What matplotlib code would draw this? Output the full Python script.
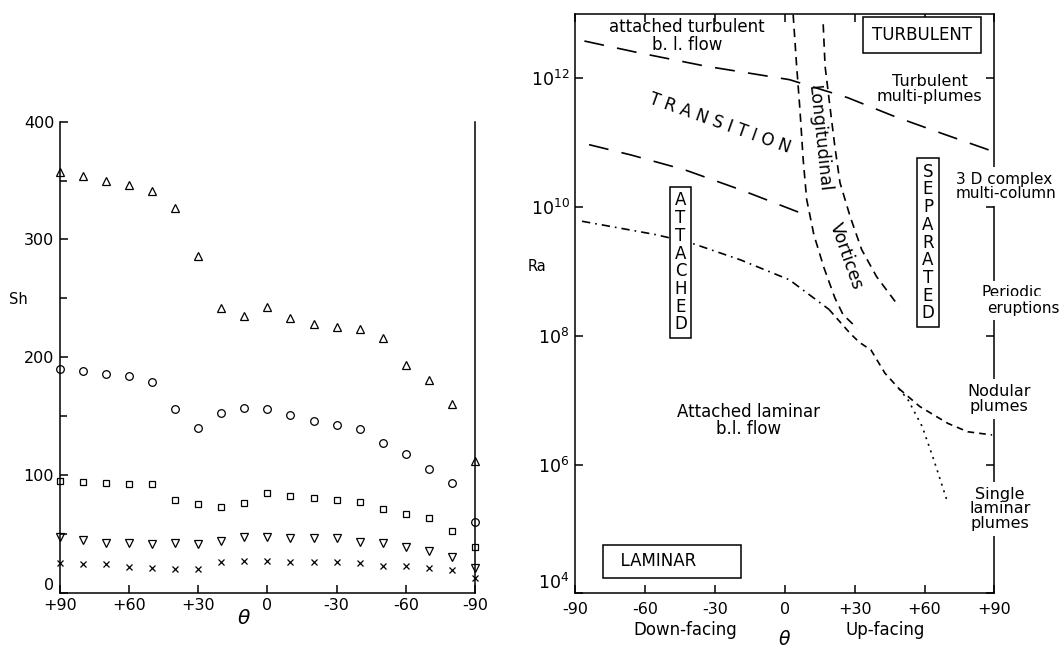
import numpy as np
import matplotlib
matplotlib.use('Agg')
import matplotlib.pyplot as plt
from matplotlib.ticker import NullLocator, MultipleLocator
import matplotlib.transforms as mtransforms

# --- lewy wykres: Sh w funkcji kata nachylenia ---
theta_pts = [90, 80, 70, 60, 50, 40, 30, 20, 10, 0, -10, -20, -30, -40, -50, -60, -70, -80, -90]
sh_tri = [357, 354, 350, 346, 341, 327, 286, 242, 235, 243, 233, 228, 226, 224, 216, 193, 181, 160, 112]
sh_circ = [190, 188, 186, 184, 179, 156, 140, 153, 157, 156, 151, 146, 142, 139, 127, 118, 105, 93, 60]
sh_sq = [95, 94, 93, 92, 92, 79, 75, 73, 76, 85, 82, 80, 79, 77, 71, 67, 63, 52, 39]
sh_dtri = [47, 45, 42, 42, 41, 42, 41, 44, 47, 47, 46, 46, 46, 43, 42, 39, 35, 30, 21]
sh_x = [25, 24, 24, 22, 21, 20, 20, 26, 27, 27, 26, 26, 26, 25, 23, 23, 21, 19, 12]

left_xticks = [90, 60, 30, 0, -30, -60, -90]
left_xlabels = ['+90', '+60', '+30', '0', '-30', '-60', '-90']
left_yticks = [0, 100, 200, 300, 400]

# --- prawy wykres: mapa rezimow (theta, log10 Ra) ---
turb_th = [-86, -63, -34, 2, 27, 47, 67, 89]
turb_lra = [12.58, 12.40, 12.19, 11.98, 11.70, 11.41, 11.15, 10.87]

trans_th = [-84, -66, -43, -19, 11]
trans_lra = [10.97, 10.81, 10.58, 10.27, 9.85]

lam_th = [-87, -55, -40, -19, 2, 19]
lam_lra = [9.78, 9.57, 9.44, 9.18, 8.87, 8.41]
lam2_th = [19, 28, 32, 37, 43, 49]
lam2_lra = [8.41, 8.04, 7.9, 7.78, 7.42, 7.18]

nod_th = [49, 58, 70, 78.5, 89]
nod_lra = [7.18, 6.90, 6.64, 6.51, 6.46]

single_th = [49, 53, 59, 64, 70]
single_lra = [7.18, 7.0, 6.59, 6.07, 5.4]

vort1_th = [3.6, 5.1, 6.5, 7.9, 9.4, 12.5, 16.8, 21.5, 25.0, 31]
vort1_lra = [12.99, 12.19, 11.52, 10.74, 10.12, 9.57, 9.06, 8.59, 8.33, 8.12]
vort2_th = [16.5, 17.3, 19.4, 21.5, 23.7, 28.0, 33.0, 39.4, 48.9]
vort2_lra = [12.84, 12.19, 11.56, 10.94, 10.38, 9.86, 9.34, 8.92, 8.46]

right_xticks = [-90, -60, -30, 0, 30, 60, 90]
right_xlabels = ['-90', '-60', '-30', '0', '+30', '+60', '+90']
right_ydec = [4, 6, 8, 10, 12]

FS = 11.5
FR = 12

fig = plt.figure(figsize=(10.62, 6.48), dpi=100)

# ================= lewy =================
ax1 = fig.add_axes([0.0562, 0.0855, 0.3912, 0.7266])
styl = dict(linestyle='none', mfc='none', mec='black', mew=0.9, clip_on=False)
ax1.plot(theta_pts, sh_tri, marker='^', ms=5.5, **styl)
ax1.plot(theta_pts, sh_circ, marker='o', ms=5.5, **styl)
ax1.plot(theta_pts, sh_sq, marker='s', ms=5, **styl)
ax1.plot(theta_pts, sh_dtri, marker='v', ms=5.5, **styl)
ax1.plot(theta_pts, sh_x, marker='x', ms=4, color='black', linestyle='none', mew=0.9, clip_on=False)

ax1.set_xlim(90, -90)
ax1.set_ylim(0, 400)
ax1.spines['top'].set_visible(False)
for s in ax1.spines.values():
    s.set_linewidth(1.1)
ax1.set_xticks(left_xticks)
ax1.set_xticklabels(left_xlabels, fontsize=FS)
ax1.set_yticks(left_yticks)
ax1.set_yticklabels([str(v) for v in left_yticks], fontsize=FS)
ax1.get_yticklabels()[0].set_va('bottom')
ax1.yaxis.set_minor_locator(MultipleLocator(50))
ax1.tick_params(which='both', direction='in', width=1.1)
ax1.tick_params(which='major', length=6, pad=4)
ax1.tick_params(which='minor', length=5)
ax1.text(-0.10, 0.622, 'Sh', transform=ax1.transAxes, fontsize=FS - 1, ha='center', va='center')
ax1.text(0.444, -0.055, r'$\theta$', transform=ax1.transAxes, fontsize=FS + 3, ha='center', va='center')

# ================= prawy =================
ax2 = fig.add_axes([0.5415, 0.0844, 0.3949, 0.894])
ax2.set_yscale('log')
ax2.set_xlim(-90, 90)
ax2.set_ylim(1e4, 1e13)

def rysuj(th, lra, dashes, lw=1.2):
    ax2.plot(th, 10.0 ** np.array(lra), color='black', lw=lw, dashes=dashes)

rysuj(turb_th, turb_lra, (12, 8))
rysuj(trans_th, trans_lra, (12, 8))
rysuj(lam_th, lam_lra, (5, 3, 1, 3))
rysuj(lam2_th, lam2_lra, (4, 3))
rysuj(nod_th, nod_lra, (4, 3))
rysuj(single_th, single_lra, (1.2, 3))
rysuj(vort1_th, vort1_lra, (5, 3.5))
rysuj(vort2_th, vort2_lra, (5, 3.5))

for s in ax2.spines.values():
    s.set_linewidth(1.1)
ax2.set_xticks(right_xticks)
ax2.set_xticklabels(right_xlabels, fontsize=FS)
ax2.set_yticks([10.0 ** d for d in right_ydec])
ax2.set_yticklabels([r'$10^{%d}$' % d for d in right_ydec], fontsize=FS + 1)
ax2.get_yticklabels()[0].set_va('bottom')
ax2.yaxis.set_minor_locator(NullLocator())
ax2.tick_params(which='both', direction='in', top=True, right=True, length=6, width=1.1)
ax2.tick_params(axis='x', pad=6)
ax2.tick_params(axis='y', pad=4)

trans = mtransforms.blended_transform_factory(ax2.transData, ax2.transAxes)
ax2.text(-0.090, 0.564, 'Ra', transform=ax2.transAxes, fontsize=FS - 1, ha='center', va='center')
ax2.text(-42.7, -0.063, 'Down-facing', transform=trans, fontsize=FR, ha='center', va='center')
ax2.text(43, -0.063, 'Up-facing', transform=trans, fontsize=FR, ha='center', va='center')
ax2.text(0, -0.079, r'$\theta$', transform=trans, fontsize=FS + 2, ha='center', va='center')

white = dict(boxstyle='square,pad=0.3', facecolor='white', edgecolor='none')
ramka = dict(boxstyle='square,pad=0.25', facecolor='white', edgecolor='black', lw=1.1)

ax2.text(-42, 10 ** 12.66, 'attached turbulent\nb. l. flow', fontsize=FR,
         ha='center', va='center', linespacing=0.95)
ax2.text(58.9, 10 ** 12.67, 'TURBULENT', fontsize=FR, ha='center', va='center',
         bbox=dict(boxstyle='square,pad=0.55', facecolor='white', edgecolor='black', lw=1.1))
ax2.text(62.1, 10 ** 11.83, 'Turbulent\nmulti-plumes', fontsize=FS, ha='center', va='center',
         linespacing=1.0)
ax2.text(-28, 10 ** 11.3, 'T R A N S I T I O N', fontsize=FR, ha='center', va='center',
         rotation=-19.6)
ax2.text(14.6, 10 ** 11.06, 'Longitudinal', fontsize=FR + 0.5, ha='center', va='center',
         rotation=-84)
ax2.text(26.3, 10 ** 9.23, 'Vortices', fontsize=FR + 0.5, ha='center', va='center', rotation=-70.5)
ax2.text(-44.7, 10 ** 9.14, '\n'.join('ATTACHED'), fontsize=FR, ha='center', va='center',
         linespacing=0.98, bbox=ramka)
ax2.text(61.5, 10 ** 9.45, '\n'.join('SEPARATED'), fontsize=FR, ha='center', va='center',
         linespacing=0.98, bbox=ramka)
ax2.text(73.3, 10 ** 10.32, '3 D complex\nmulti-column', fontsize=FS - 0.5, ha='left', va='center',
         linespacing=0.95, bbox=white, zorder=5)
ax2.text(97.5, 10 ** 8.67, 'Periodic', fontsize=FS - 0.5, ha='center', va='center',
         bbox=white, zorder=5)
ax2.text(102.5, 10 ** 8.43, 'eruptions', fontsize=FS - 0.5, ha='center', va='center',
         bbox=white, zorder=5)
ax2.text(91.8, 10 ** 7.02, 'Nodular\nplumes', fontsize=FS, ha='center', va='center',
         linespacing=1.0, bbox=white, zorder=5)
ax2.text(92.4, 10 ** 5.31, 'Single\nlaminar\nplumes', fontsize=FS, ha='center', va='center',
         linespacing=0.95, bbox=white, zorder=5)
ax2.text(-15.4, 10 ** 6.68, 'Attached laminar\nb.l. flow', fontsize=FR, ha='center', va='center',
         linespacing=0.95)
ax2.text(-75, 10 ** 4.5, '  LAMINAR       ', fontsize=FR, ha='left', va='center',
         bbox=dict(boxstyle='square,pad=0.45', facecolor='white', edgecolor='black', lw=1.1))

fig.savefig('out.png', dpi=100)
